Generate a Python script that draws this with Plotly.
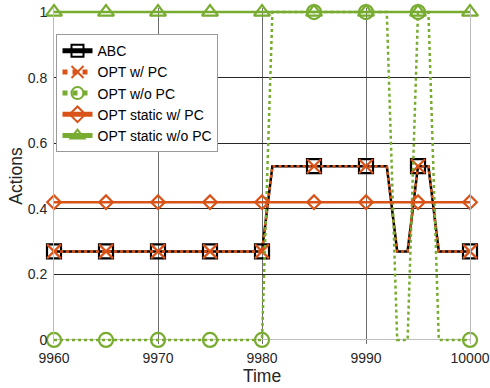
import plotly.graph_objects as go

time = list(range(9960, 10001))

abc = [0.27, 0.27, 0.27, 0.27, 0.27, 0.27, 0.27, 0.27, 0.27, 0.27,
       0.27, 0.27, 0.27, 0.27, 0.27, 0.27, 0.27, 0.27, 0.27, 0.27,
       0.27, 0.53, 0.53, 0.53, 0.53, 0.53, 0.53, 0.53, 0.53, 0.53,
       0.53, 0.53, 0.53, 0.27, 0.27, 0.53, 0.53, 0.27, 0.27, 0.27, 0.27]
opt_w_pc = [0.27, 0.27, 0.27, 0.27, 0.27, 0.27, 0.27, 0.27, 0.27, 0.27,
            0.27, 0.27, 0.27, 0.27, 0.27, 0.27, 0.27, 0.27, 0.27, 0.27,
            0.27, 0.53, 0.53, 0.53, 0.53, 0.53, 0.53, 0.53, 0.53, 0.53,
            0.53, 0.53, 0.53, 0.27, 0.27, 0.53, 0.53, 0.27, 0.27, 0.27, 0.27]
opt_wo_pc = [0, 0, 0, 0, 0, 0, 0, 0, 0, 0,
             0, 0, 0, 0, 0, 0, 0, 0, 0, 0,
             0, 1, 1, 1, 1, 1, 1, 1, 1, 1,
             1, 1, 1, 0, 0, 1, 1, 0, 0, 0, 0]
opt_static_w_pc = [0.42, 0.42, 0.42, 0.42, 0.42, 0.42, 0.42, 0.42, 0.42, 0.42,
                   0.42, 0.42, 0.42, 0.42, 0.42, 0.42, 0.42, 0.42, 0.42, 0.42,
                   0.42, 0.42, 0.42, 0.42, 0.42, 0.42, 0.42, 0.42, 0.42, 0.42,
                   0.42, 0.42, 0.42, 0.42, 0.42, 0.42, 0.42, 0.42, 0.42, 0.42, 0.42]
opt_static_wo_pc = [1, 1, 1, 1, 1, 1, 1, 1, 1, 1,
                    1, 1, 1, 1, 1, 1, 1, 1, 1, 1,
                    1, 1, 1, 1, 1, 1, 1, 1, 1, 1,
                    1, 1, 1, 1, 1, 1, 1, 1, 1, 1, 1]

x_ticks = [9960, 9970, 9980, 9990, 10000]
y_ticks = [0, 0.2, 0.4, 0.6, 0.8, 1]
y_ticklabels = ["0", "0.2", "0.4", "0.6", "0.8", "1"]

ORANGE = "#D95319"
GREEN = "#77AC30"
BLACK = "#000000"


def msizes(s):
    return [s if (t - time[0]) % 5 == 0 else 0 for t in time]


series = [
    ("ABC", abc, BLACK, "solid", "square-open", 14, 2.5),
    ("OPT w/ PC", opt_w_pc, ORANGE, "dot", "x-thin-open", 14, 2.5),
    ("OPT w/o PC", opt_wo_pc, GREEN, "dot", "circle-open", 14, 2.5),
    ("OPT static w/ PC", opt_static_w_pc, ORANGE, "solid", "diamond-open", 10.5, 2.5),
    ("OPT static w/o PC", opt_static_wo_pc, GREEN, "solid", "triangle-up-open", 14, 2.5),
]

fig = go.Figure()
for i, (name, vals, color, dash, sym, ms, lw) in enumerate(series):
    fig.add_trace(go.Scatter(
        x=time, y=vals, name=name, mode="lines+markers",
        line=dict(color=color, width=lw, dash=dash),
        marker=dict(symbol=sym, size=msizes(ms), color=color, opacity=1,
                    line=dict(color=color, width=2.2)),
        cliponaxis=False, legendgroup=f"g{i}",
    ))

# small padding so lines lying on 0 and 1 are not cut in half
pad = 0.0125
top_m = 12 - 4.1
plot_h = 388 - top_m - (48.5 - 4.1)
font_family = "Liberation Sans, Arial, sans-serif"
fig.update_layout(
    width=490, height=388,
    margin=dict(l=54, r=20, t=top_m, b=48.5 - 4.1),
    paper_bgcolor="white", plot_bgcolor="white",
    font=dict(family=font_family, color="#262626", size=14),
    showlegend=True,
    legend=dict(
        x=0.006, y=1 - (34 - top_m) / plot_h, xanchor="left", yanchor="top",
        bgcolor="white", bordercolor="#9a9a9a", borderwidth=1,
        font=dict(size=14, color="#000000"), itemsizing="constant",
        tracegroupgap=0,
    ),
    xaxis=dict(
        range=[9960, 10000], tickvals=x_ticks, ticktext=[str(v) for v in x_ticks],
        showgrid=True, gridcolor="#6e6e6e", gridwidth=1,
        showline=False, zeroline=False,
        ticks="outside", ticklen=1, tickcolor="rgba(0,0,0,0)", automargin=False,
        tickfont=dict(size=14),
        title=dict(text="Time", font=dict(size=17.5), standoff=0),
    ),
    yaxis=dict(
        range=[-pad, 1 + pad], tickvals=y_ticks, ticktext=y_ticklabels,
        showgrid=True, gridcolor="#262626", gridwidth=1,
        showline=True, linecolor="#bdbdbd", linewidth=1, mirror=True,
        zeroline=True, zerolinecolor="#bdbdbd", zerolinewidth=1,
        ticks="outside", ticklen=3, tickcolor="rgba(0,0,0,0)", automargin=False,
        tickfont=dict(size=14),
        title=dict(text="Actions", font=dict(size=17.5), standoff=0),
    ),
)

fig.write_html("out.html", config={"displayModeBar": False},
               post_script="document.body.style.margin='0px';document.body.style.padding='0px';")
